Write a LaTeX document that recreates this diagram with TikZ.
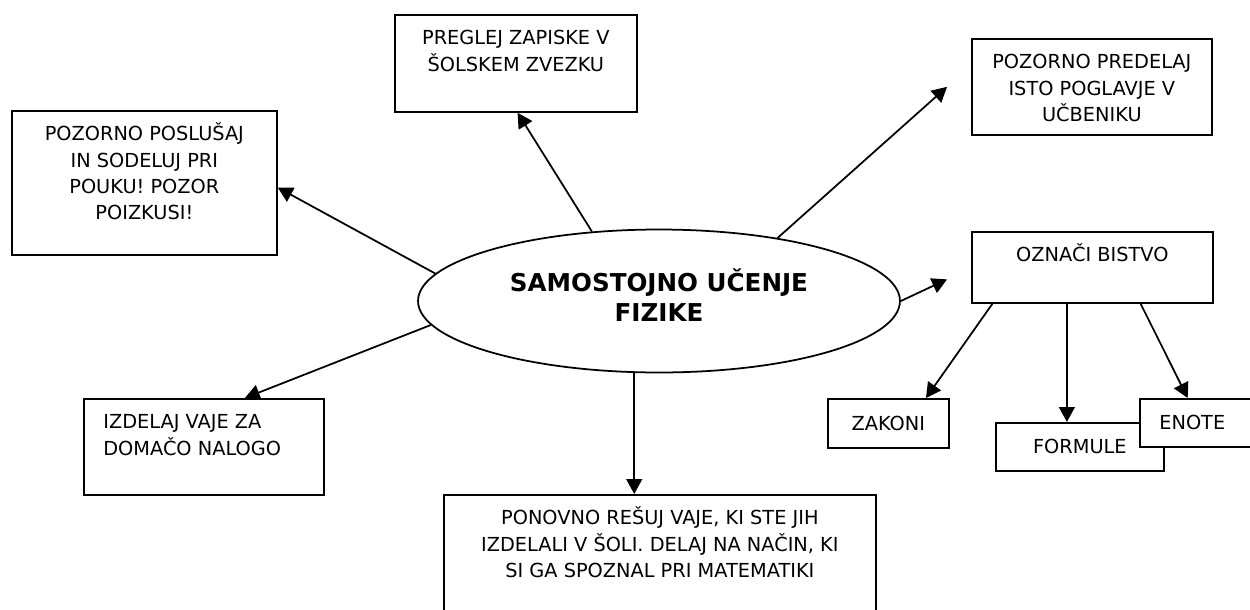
\documentclass[tikz,border=0pt]{standalone}
\usepackage{fontspec}
\setmainfont{DejaVu Sans}
\usetikzlibrary{arrows.meta,calc,shapes.geometric}

\begin{document}
\begin{tikzpicture}[x=0.02cm, y=-0.02cm,
    every node/.style={font=\fontsize{11}{15}\selectfont},
    box/.style={draw, rectangle, line width=1pt, anchor=north west, inner sep=0pt, fill=white},
    txt/.style={anchor=north, align=center, inner sep=0pt, yshift=-0.24cm},
    arr/.style={-{Triangle[length=8.5pt,width=9pt]}, line width=1pt}]
    \useasboundingbox (0,0) rectangle (1250,609);
    \node[ellipse, draw, line width=1pt, minimum width=9.64cm, minimum height=2.86cm, inner sep=0pt, label={[align=center, yshift=0.12cm, font=\fontsize{14}{17}\selectfont\bfseries]center:{SAMOSTOJNO UČENJE\\FIZIKE}}] (ucenje) at (659,301) {};
    \node[box, minimum width=5.30cm, minimum height=2.88cm, label={[txt]north:{\strut POZORNO POSLUŠAJ\\IN SODELUJ PRI\\POUKU! POZOR\\POIZKUSI!}}] (poslusaj) at (11,110) {};
    \node[box, minimum width=4.84cm, minimum height=1.94cm, label={[txt]north:{\strut PREGLEJ ZAPISKE V\\ŠOLSKEM ZVEZKU}}] (zvezek) at (394,14) {};
    \node[box, minimum width=4.80cm, minimum height=1.92cm, label={[txt]north:{\strut POZORNO PREDELAJ\\ISTO POGLAVJE V\\UČBENIKU}}] (ucbenik) at (971,38) {};
    \node[box, minimum width=4.82cm, minimum height=1.42cm, label={[txt]north:{\strut OZNAČI BISTVO}}] (bistvo) at (971,231) {};
    \node[box, minimum width=4.80cm, minimum height=1.92cm, label={[txt, anchor=north west, align=left, xshift=0.4cm]north west:{\strut IZDELAJ VAJE ZA\\DOMAČO NALOGO}}] (naloga) at (83,398) {};
    \node[box, minimum width=8.64cm, minimum height=2.60cm, label={[txt]north:{\strut PONOVNO REŠUJ VAJE, KI STE JIH\\IZDELALI V ŠOLI. DELAJ NA NAČIN, KI\\SI GA SPOZNAL PRI MATEMATIKI}}] (vaje) at (443,494) {};
    \node[box, minimum width=2.42cm, minimum height=0.98cm] (zakoni) at (827,398) {ZAKONI};
    \node[box, minimum width=3.36cm, minimum height=0.96cm] (formule) at (995,422) {FORMULE};
    \node[box, minimum width=2.42cm, minimum height=0.96cm, label={[anchor=west, inner sep=0pt, xshift=0.4cm]west:ENOTE}] (enote) at (1139,398) {};
    \coordinate (ucbenikkonec) at ($(ucbenik.west)+(-24,0)$);
    \coordinate (bistvokonec) at ($(bistvo.west)+(-24,12)$);
    \draw[arr] (ucenje.173) -- (poslusaj.358);
    \draw[arr] (ucenje.134) -- (zvezek.272);
    \draw[arr] (ucenje.28) -- (ucbenikkonec);
    \draw[arr] (ucenje.east) -- (bistvokonec);
    \draw[arr] (ucenje.186) -- (naloga.50);
    \draw[arr] (ucenje.251) -- (ucenje.251 |- vaje.north);
    \draw[arr] (bistvo.200) -- (zakoni.34);
    \draw[arr] (bistvo.235) -- (bistvo.235 |- formule.north);
    \draw[arr] (bistvo.323) -- (enote.117);
\end{tikzpicture}
\end{document}
